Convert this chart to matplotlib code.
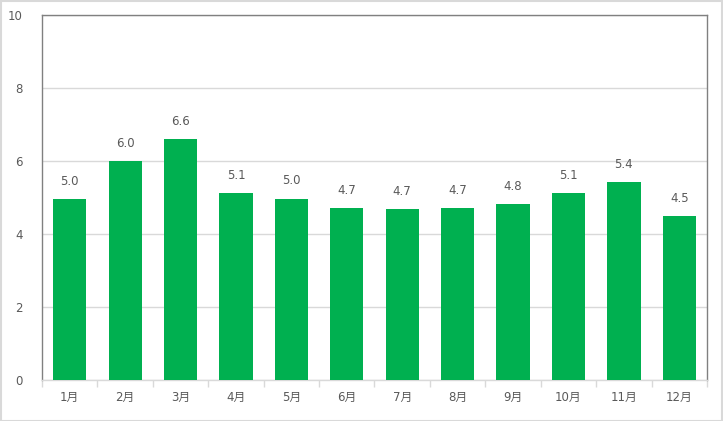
import matplotlib
matplotlib.use("Agg")
import matplotlib.pyplot as plt
from matplotlib.patches import Rectangle

plt.rcParams['font.family'] = ['DejaVu Sans', 'Noto Sans CJK JP']

months = ['1月', '2月', '3月', '4月', '5月', '6月', '7月', '8月', '9月', '10月', '11月', '12月']
values = [4.96, 6.0, 6.6, 5.12, 4.97, 4.71, 4.68, 4.71, 4.82, 5.12, 5.42, 4.49]
yticks = [0, 2, 4, 6, 8, 10]

text_color = '#595959'
fig = plt.figure(figsize=(7.23, 4.21), dpi=100)
ax = fig.add_axes([42/723, 1 - 380/421, (707-42)/723, (380-15)/421])

x = list(range(len(months)))
bars = ax.bar(x, values, width=0.6, color='#00B050', zorder=3)
for xi, v in zip(x, values):
    ax.annotate(f'{v:.1f}', (xi, v), xytext=(0, 8), textcoords='offset points',
                ha='center', va='bottom', fontsize=8.5, color=text_color)

ax.set_xlim(-0.5, len(months) - 0.5)
ax.set_ylim(0, 10)
ax.set_yticks(yticks)
ax.set_yticklabels([str(t) for t in yticks], fontsize=8.5, color=text_color)
ax.yaxis.grid(True, color='#d9d9d9', linewidth=1, zorder=0)
ax.tick_params(axis='y', length=0, pad=14)
ax.set_xticks(x)
ax.set_xticklabels(months, fontsize=8.5, color=text_color)
ax.set_xticks([i + 0.5 for i in range(-1, len(months))], minor=True)
ax.tick_params(axis='x', which='major', length=0, pad=8)
ax.tick_params(axis='x', which='minor', length=5, color='#d9d9d9', width=1)
for s in ['left', 'top', 'right']:
    ax.spines[s].set_color('#808080')
    ax.spines[s].set_linewidth(1)
ax.spines['bottom'].set_color('#d9d9d9')
ax.spines['bottom'].set_linewidth(1)

fig.patches.append(Rectangle((0.5/723, 0.5/421), 1 - 1.5/723, 1 - 1.5/421,
                             transform=fig.transFigure, fill=False,
                             edgecolor='#d9d9d9', linewidth=1.5))
fig.savefig('out.png', dpi=100)
